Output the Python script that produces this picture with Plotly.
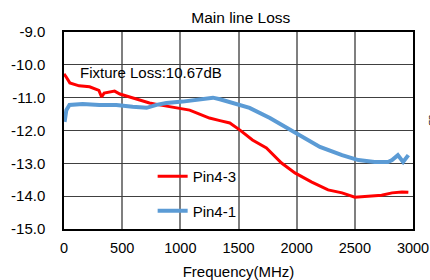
import plotly.graph_objects as go

# Pin4-3 (red)
freq_red = [0, 15, 50, 130, 220, 300, 323, 345, 435, 480, 565, 650, 735, 820, 910, 995, 1080, 1165, 1250, 1340, 1425, 1510, 1620, 1740, 1870, 1985, 2130, 2270, 2390, 2500, 2610, 2730, 2820, 2905, 2960]
loss_red = [-10.28, -10.35, -10.55, -10.64, -10.67, -10.78, -10.98, -10.86, -10.8, -10.89, -10.98, -11.07, -11.16, -11.22, -11.28, -11.33, -11.38, -11.5, -11.62, -11.7, -11.77, -11.98, -12.29, -12.53, -12.99, -13.29, -13.57, -13.81, -13.9, -14.03, -14.0, -13.97, -13.9, -13.87, -13.88]

# Pin4-1 (blue)
freq_blue = [5, 20, 47, 160, 305, 450, 590, 710, 795, 880, 1020, 1165, 1280, 1340, 1425, 1595, 1770, 1915, 2055, 2200, 2390, 2530, 2670, 2785, 2820, 2870, 2915, 2960]
loss_blue = [-11.74, -11.38, -11.22, -11.19, -11.22, -11.22, -11.28, -11.31, -11.22, -11.16, -11.12, -11.04, -11.0, -11.05, -11.13, -11.31, -11.62, -11.92, -12.23, -12.5, -12.75, -12.9, -12.96, -12.96, -12.9, -12.75, -12.96, -12.75]

y_ticks = [-9, -10, -11, -12, -13, -14, -15]
y_labels = ["-9.0", "-10.0", "-11.0", "-12.0", "-13.0", "-14.0", "-15.0"]
x_ticks = [0, 500, 1000, 1500, 2000, 2500, 3000]

fig = go.Figure()
fig.add_trace(go.Scatter(x=freq_red, y=loss_red, mode="lines", name="Pin4-3",
                         line=dict(color="#FF0000", width=3), legendgroup="a"))
fig.add_trace(go.Scatter(x=freq_blue, y=loss_blue, mode="lines", name="Pin4-1",
                         line=dict(color="#5B9BD5", width=4), legendgroup="b"))

font = dict(family="Liberation Sans, Arial, sans-serif", size=15, color="#000000")

fig.update_layout(
    width=430, height=280,
    margin=dict(l=64, r=17, t=32, b=51, autoexpand=False),
    paper_bgcolor="white", plot_bgcolor="white",
    font=font,
    title=dict(text="Main line Loss", x=0.56, xref="container", xanchor="center",
               y=0.936, yref="container", yanchor="middle", font=dict(size=15.5)),
    showlegend=True,
    legend=dict(x=0.254, y=0.35, xanchor="left", yanchor="top", bgcolor="rgba(0,0,0,0)",
                tracegroupgap=12, font=dict(size=15)),
    xaxis=dict(range=[0, 3000], tickvals=x_ticks, showgrid=True, gridcolor="#7f7f7f",
               gridwidth=2, showline=True, linecolor="#000000", linewidth=1.5, mirror=True,
               ticks="outside", ticklen=5, tickcolor="rgba(0,0,0,0)", zeroline=False,
               tickfont=dict(size=14.5), automargin=False,
               title=dict(text="Frequency(MHz)", font=dict(size=15), standoff=17)),
    yaxis=dict(range=[-15, -9], tickvals=y_ticks, ticktext=y_labels, showgrid=True,
               gridcolor="#404040", gridwidth=1.3, showline=True, linecolor="#000000",
               linewidth=1.5, mirror=True, ticks="outside", ticklen=14,
               tickcolor="rgba(0,0,0,0)", zeroline=False, tickfont=dict(size=15),
               automargin=False),
    annotations=[
        dict(text="Fixture Loss:10.67dB", x=0.039, y=0.792, xref="paper", yref="paper",
             xanchor="left", yanchor="middle", showarrow=False, font=dict(size=15)),
        dict(text="dB", x=1.035, y=0.553, xref="paper", yref="paper", xanchor="left",
             yanchor="middle", showarrow=False, textangle=90, font=dict(size=9)),
    ],
)

fig.write_html(
    "out.html",
    config={"displayModeBar": False},
    post_script="document.body.style.margin='0';document.documentElement.style.overflow='hidden';",
)
